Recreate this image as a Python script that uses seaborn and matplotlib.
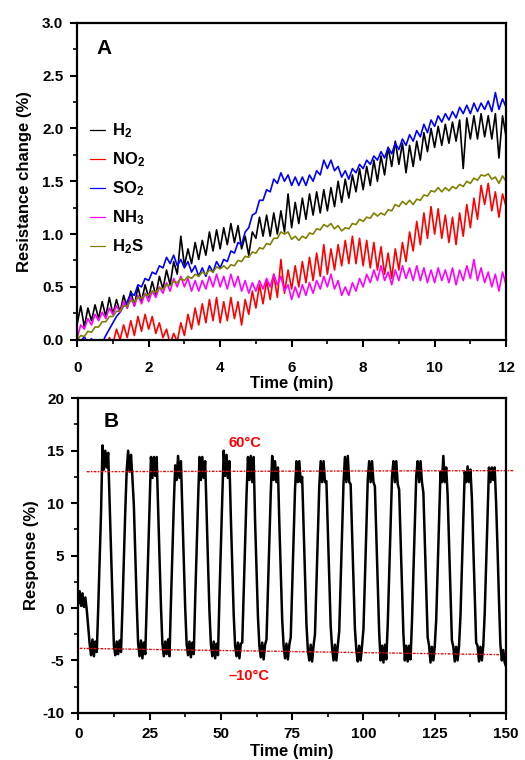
import matplotlib
matplotlib.use("Agg")
import matplotlib.pyplot as plt
import seaborn as sns
import numpy as np
from matplotlib.ticker import MultipleLocator

sns.set_theme(style="ticks")
plt.rcParams["font.family"] = ["Liberation Sans", "DejaVu Sans"]
plt.rcParams["font.weight"] = "bold"
plt.rcParams["axes.labelweight"] = "bold"
plt.rcParams["axes.unicode_minus"] = False
plt.rcParams["mathtext.fontset"] = "custom"
plt.rcParams["mathtext.rm"] = "Liberation Sans:bold"
plt.rcParams["mathtext.bf"] = "Liberation Sans:bold"
plt.rcParams["mathtext.default"] = "bf"
for key in ["text.color", "axes.labelcolor", "xtick.color", "ytick.color", "axes.edgecolor"]:
    plt.rcParams[key] = "black"

# ---------------- panel A data (read every 0.1 min) ----------------
time_a = np.round(np.arange(121) * 0.1, 1)

h2 = [0.15, 0.32, 0.12, 0.30, 0.18, 0.33, 0.20, 0.36, 0.22, 0.40,
      0.24, 0.38, 0.26, 0.42, 0.30, 0.46, 0.32, 0.50, 0.36, 0.52,
      0.40, 0.55, 0.42, 0.60, 0.48, 0.66, 0.52, 0.74, 0.62, 0.98,
      0.70, 0.86, 0.72, 0.92, 0.76, 0.94, 0.80, 1.02, 0.84, 1.04,
      0.86, 1.06, 0.90, 1.10, 0.92, 1.08, 0.86, 0.98, 0.80, 1.02,
      0.96, 1.16, 0.98, 1.18, 0.98, 1.20, 1.00, 1.22, 1.02, 1.38,
      1.06, 1.30, 1.10, 1.34, 1.14, 1.38, 1.18, 1.40, 1.20, 1.42,
      1.22, 1.44, 1.26, 1.50, 1.30, 1.52, 1.34, 1.56, 1.40, 1.62,
      1.42, 1.64, 1.46, 1.70, 1.50, 1.74, 1.56, 1.82, 1.64, 1.88,
      1.66, 1.86, 1.58, 1.84, 1.64, 1.88, 1.70, 1.96, 1.78, 2.00,
      1.82, 2.02, 1.84, 2.04, 1.86, 2.06, 1.88, 2.08, 1.62, 2.10,
      1.90, 2.12, 1.90, 2.14, 1.92, 2.12, 1.90, 2.14, 1.72, 2.12,
      1.92]

no2 = [-0.15, -0.05, -0.18, -0.06, -0.16, -0.04, -0.14, -0.05, -0.12, 0.02,
       -0.04, 0.10, 0.00, 0.14, 0.02, 0.18, 0.04, 0.22, 0.08, 0.24,
       0.10, 0.22, 0.06, 0.16, 0.02, 0.10, -0.04, 0.06, -0.02, 0.16,
       0.04, 0.24, 0.10, 0.30, 0.14, 0.34, 0.16, 0.38, 0.18, 0.40,
       0.16, 0.36, 0.18, 0.40, 0.20, 0.36, 0.14, 0.38, 0.24, 0.46,
       0.30, 0.52, 0.34, 0.56, 0.38, 0.62, 0.40, 0.76, 0.44, 0.66,
       0.48, 0.70, 0.50, 0.74, 0.54, 0.78, 0.56, 0.82, 0.60, 0.90,
       0.62, 0.86, 0.66, 0.90, 0.70, 0.94, 0.72, 0.98, 0.72, 0.96,
       0.70, 0.94, 0.68, 0.92, 0.66, 0.88, 0.62, 0.82, 0.58, 0.86,
       0.66, 0.92, 0.74, 1.02, 0.84, 1.12, 0.90, 1.20, 0.96, 1.26,
       1.00, 1.24, 0.96, 1.18, 0.92, 1.16, 0.90, 1.20, 0.98, 1.28,
       1.06, 1.34, 1.14, 1.46, 1.28, 1.48, 1.22, 1.40, 1.16, 1.38,
       1.26]

so2 = [0.02, -0.02, 0.03, -0.04, 0.01, -0.05, -0.01, -0.03, 0.04, 0.10,
       0.16, 0.22, 0.26, 0.32, 0.36, 0.44, 0.42, 0.52, 0.50, 0.58,
       0.56, 0.64, 0.62, 0.70, 0.68, 0.78, 0.72, 0.80, 0.70, 0.76,
       0.68, 0.74, 0.64, 0.70, 0.60, 0.68, 0.60, 0.70, 0.64, 0.74,
       0.68, 0.76, 0.74, 0.84, 0.82, 0.92, 0.90, 1.02, 1.06, 1.18,
       1.20, 1.32, 1.32, 1.42, 1.40, 1.52, 1.48, 1.58, 1.50, 1.56,
       1.46, 1.54, 1.46, 1.54, 1.46, 1.56, 1.50, 1.60, 1.56, 1.70,
       1.62, 1.70, 1.60, 1.64, 1.54, 1.60, 1.52, 1.62, 1.58, 1.66,
       1.62, 1.70, 1.66, 1.74, 1.70, 1.78, 1.72, 1.82, 1.76, 1.86,
       1.80, 1.90, 1.84, 1.94, 1.88, 1.98, 1.92, 2.04, 1.96, 2.08,
       2.02, 2.12, 2.06, 2.14, 2.08, 2.16, 2.10, 2.20, 2.14, 2.22,
       2.14, 2.24, 2.16, 2.24, 2.18, 2.26, 2.16, 2.34, 2.18, 2.28,
       2.20]

nh3 = [0.02, 0.14, 0.10, 0.20, 0.14, 0.24, 0.18, 0.26, 0.20, 0.30,
       0.24, 0.32, 0.26, 0.36, 0.30, 0.40, 0.32, 0.42, 0.34, 0.44,
       0.36, 0.46, 0.40, 0.50, 0.44, 0.54, 0.46, 0.58, 0.50, 0.60,
       0.50, 0.58, 0.46, 0.56, 0.46, 0.56, 0.48, 0.60, 0.50, 0.62,
       0.50, 0.60, 0.48, 0.62, 0.50, 0.60, 0.46, 0.56, 0.44, 0.54,
       0.46, 0.56, 0.48, 0.58, 0.50, 0.62, 0.52, 0.60, 0.46, 0.52,
       0.38, 0.50, 0.40, 0.52, 0.42, 0.54, 0.44, 0.56, 0.48, 0.60,
       0.50, 0.62, 0.48, 0.56, 0.42, 0.50, 0.42, 0.54, 0.46, 0.58,
       0.50, 0.62, 0.54, 0.66, 0.56, 0.70, 0.56, 0.64, 0.52, 0.66,
       0.56, 0.70, 0.58, 0.68, 0.56, 0.70, 0.56, 0.68, 0.54, 0.66,
       0.54, 0.68, 0.56, 0.66, 0.54, 0.68, 0.52, 0.66, 0.56, 0.70,
       0.58, 0.76, 0.56, 0.68, 0.54, 0.64, 0.50, 0.62, 0.46, 0.64,
       0.52]

h2s = [0.00, 0.04, 0.03, 0.08, 0.07, 0.12, 0.12, 0.17, 0.17, 0.22,
       0.22, 0.27, 0.27, 0.32, 0.32, 0.37, 0.36, 0.40, 0.39, 0.43,
       0.42, 0.46, 0.45, 0.49, 0.48, 0.52, 0.51, 0.55, 0.54, 0.58,
       0.56, 0.60, 0.58, 0.62, 0.60, 0.64, 0.62, 0.66, 0.64, 0.69,
       0.67, 0.70, 0.67, 0.71, 0.70, 0.75, 0.74, 0.79, 0.78, 0.83,
       0.82, 0.87, 0.86, 0.91, 0.90, 0.96, 0.96, 1.02, 1.00, 1.02,
       0.95, 0.98, 0.94, 0.98, 0.96, 1.01, 1.00, 1.05, 1.04, 1.09,
       1.07, 1.10, 1.05, 1.08, 1.03, 1.06, 1.05, 1.10, 1.09, 1.14,
       1.12, 1.16, 1.15, 1.20, 1.17, 1.20, 1.18, 1.23, 1.22, 1.28,
       1.26, 1.31, 1.28, 1.32, 1.28, 1.33, 1.32, 1.37, 1.36, 1.41,
       1.40, 1.44, 1.40, 1.44, 1.41, 1.45, 1.43, 1.47, 1.45, 1.50,
       1.48, 1.53, 1.51, 1.56, 1.55, 1.57, 1.52, 1.54, 1.48, 1.55,
       1.50]

gas_names = [r"H$_2$", r"NO$_2$", r"SO$_2$", r"NH$_3$", r"H$_2$S"]
gas_colors = ["#000000", "#ff0000", "#0000ff", "#ff00ff", "#808000"]

# ---------------- panel B data (read every 0.5 min) ----------------
response = [
    0.4, 1.6, 0.2, 1.4, 0.1, 1.0, -0.2, -1.8, -3.4, -4.5,          # 0
    -3.0, -4.6, -3.2, -4.2, -0.1, 4.5, 9.1, 15.5, 13.2, 15.0,      # 5
    13.4, 14.8, 10.0, 5.5, 0.8, -3.6, -4.5, -3.2, -4.4, -3.1,      # 10
    -4.2, 0.0, 4.7, 9.3, 13.2, 15.0, 13.0, 14.6, 12.4, 9.8,        # 15
    5.2, 0.5, -3.4, -4.6, -3.1, -4.8, -3.3, -4.4, 0.2, 5.0,        # 20
    9.6, 14.4, 12.4, 14.4, 12.6, 14.4, 9.5, 4.8, 0.2, -3.4,        # 25
    -4.6, -3.2, -4.4, -3.0, -4.6, 0.5, 5.2, 9.8, 13.6, 12.2,       # 30
    14.5, 12.4, 14.0, 9.2, 4.6, 0.0, -3.4, -4.5, -3.2, -4.7,       # 35
    -3.3, -4.4, 0.8, 5.5, 10.1, 14.4, 12.2, 14.4, 12.4, 14.0,      # 40
    9.0, 4.3, -0.3, -3.4, -4.6, -3.2, -4.8, -3.4, -4.5, 1.0,       # 45
    5.8, 10.5, 15.0, 12.6, 14.6, 12.4, 14.0, 8.7, 4.0, -0.6,       # 50
    -3.6, -4.6, -3.3, -4.8, -3.4, -3.3, 1.3, 6.0, 10.8, 14.4,      # 55
    12.2, 14.5, 12.0, 14.4, 8.3, 3.8, -0.8, -3.6, -4.7, -3.3,      # 60
    -4.9, -3.5, -3.0, 1.6, 6.3, 11.0, 14.5, 12.2, 14.0, 12.0,      # 65
    13.4, 8.1, 3.5, -1.1, -3.6, -4.8, -3.4, -4.9, -3.5, -2.8,      # 70
    1.9, 6.6, 11.3, 14.0, 12.0, 14.0, 12.0, 12.5, 7.8, 3.2,        # 75
    -1.5, -4.0, -5.0, -3.5, -5.1, -3.6, -2.5, 2.2, 6.9, 11.6,      # 80
    14.0, 12.0, 14.0, 12.0, 12.1, 7.5, 3.0, -1.7, -3.8, -5.0,      # 85
    -3.5, -5.0, -3.6, -2.2, 2.5, 7.2, 11.9, 14.4, 12.0, 14.5,      # 90
    12.0, 11.8, 7.3, 2.7, -2.0, -4.0, -5.1, -3.6, -5.0, -3.6,      # 95
    -2.0, 2.8, 7.5, 12.2, 14.0, 12.0, 14.0, 12.0, 11.6, 7.0,       # 100
    2.3, -2.3, -5.0, -3.6, -5.2, -3.5, -4.9, -1.6, 3.0, 7.8,       # 105
    12.5, 14.0, 12.0, 14.0, 11.8, 11.3, 6.7, 2.2, -2.5, -5.0,      # 110
    -3.6, -5.1, -3.6, -4.9, -1.3, 3.3, 8.0, 12.6, 14.0, 12.0,      # 115
    14.0, 12.0, 11.0, 6.5, 1.8, -2.8, -3.6, -5.2, -3.7, -5.0,      # 120
    -3.6, -1.1, 3.6, 8.3, 13.0, 12.0, 14.5, 12.0, 13.4, 10.8,      # 125
    6.2, 1.5, -3.1, -3.7, -5.1, -3.7, -5.0, -3.6, -0.8, 3.8,       # 130
    8.6, 13.0, 12.0, 13.5, 12.0, 13.2, 10.5, 5.8, 1.3, -3.3,       # 135
    -3.6, -5.1, -3.7, -5.0, -3.6, -0.5, 4.2, 8.8, 13.4, 12.0,      # 140
    13.4, 12.2, 13.4, 10.0, 5.6, 0.8, -3.5, -5.0, -4.0, -5.2,      # 145
    -5.6,                                                          # 150
]
time_b = np.arange(len(response)) * 0.5

# reference lines for the two temperatures: (start, end) in time and response
hot_line_t = [3.0, 153.0]
hot_line_y = [13.0, 13.1]
cold_line_t = [0.5, 148.0]
cold_line_y = [-3.85, -4.45]


def style_axis(ax, xmaj, xmin, ymaj, ymin, xpad):
    ax.xaxis.set_major_locator(MultipleLocator(xmaj))
    ax.xaxis.set_minor_locator(MultipleLocator(xmin))
    ax.yaxis.set_major_locator(MultipleLocator(ymaj))
    ax.yaxis.set_minor_locator(MultipleLocator(ymin))
    ax.tick_params(which="major", direction="out", length=5, width=1.5, labelsize=11)
    ax.tick_params(which="minor", direction="out", length=3, width=1.2)
    ax.tick_params(axis="y", which="major", pad=5)
    ax.tick_params(axis="x", which="major", pad=xpad)
    for sp in ax.spines.values():
        sp.set_visible(True)
        sp.set_linewidth(1.6)
        sp.set_color("black")


fig = plt.figure(figsize=(5.25, 7.6), dpi=100)
ax_a = fig.add_axes([0.147, 0.553, 0.817, 0.417])
ax_b = fig.add_axes([0.149, 0.062, 0.815, 0.414])

# Panel A
for vals, name, col in zip([h2, no2, so2, nh3, h2s], gas_names, gas_colors):
    sns.lineplot(x=time_a, y=vals, color=col, label=name, linewidth=1.2, ax=ax_a)
ax_a.set_xlim(0, 12)
ax_a.set_ylim(0, 3.0)
style_axis(ax_a, 2, 1, 0.5, 0.25, xpad=10)
ax_a.set_xlabel("Time (min)", fontsize=12, labelpad=1)
ax_a.set_ylabel("Resistance change (%)", fontsize=12, labelpad=7.5)
ax_a.text(0.045, 0.92, "A", transform=ax_a.transAxes, fontsize=15, fontweight="bold", va="center")
leg = ax_a.legend(loc="upper left", bbox_to_anchor=(0.015, 0.71), frameon=False, fontsize=12,
                  handlelength=0.9, handletextpad=0.4, labelspacing=0.62, borderaxespad=0)
for ln in leg.get_lines():
    ln.set_linewidth(0.9)

# Panel B
sns.lineplot(x=time_b, y=response, color="black", linewidth=1.8, ax=ax_b)
ax_b.plot(hot_line_t, hot_line_y, color="red", linewidth=1.0, linestyle=(0, (2, 1, 1, 1)), clip_on=False)
ax_b.plot(cold_line_t, cold_line_y, color="red", linewidth=1.0, linestyle=(0, (2, 1, 1, 1)))
ax_b.text(58.5, 15.7, "60°C", color="red", fontsize=10.5, fontweight="bold", ha="center", va="center")
ax_b.text(60, -6.45, "\u201310°C", color="red", fontsize=10.5, fontweight="bold", ha="center", va="center")
ax_b.set_xlim(0, 150)
ax_b.set_ylim(-10, 20)
style_axis(ax_b, 25, 12.5, 5, 2.5, xpad=5)
ax_b.set_xlabel("Time (min)", fontsize=12, labelpad=2)
ax_b.set_ylabel("Response (%)", fontsize=12, labelpad=2)
ax_b.text(0.06, 0.925, "B", transform=ax_b.transAxes, fontsize=15, fontweight="bold", va="center")

fig.savefig("out.png", dpi=100)
